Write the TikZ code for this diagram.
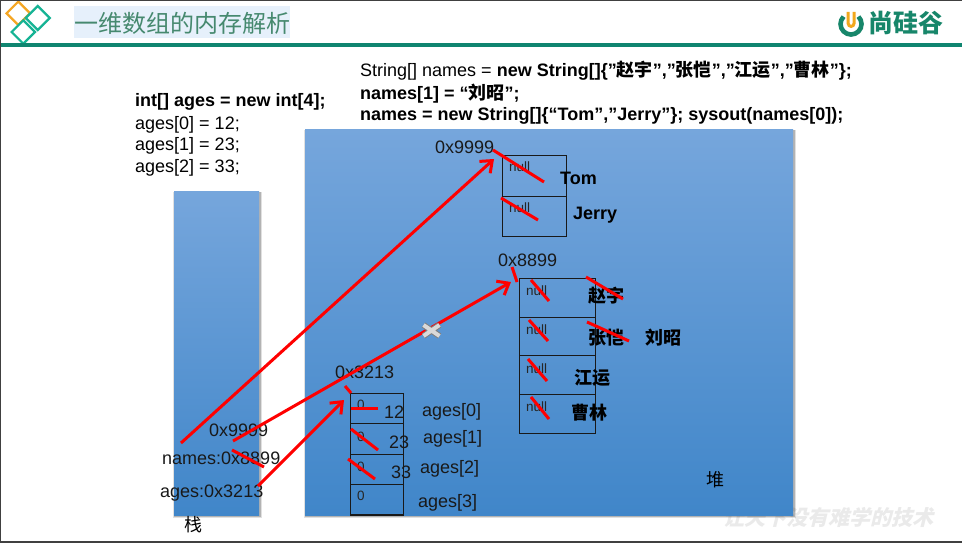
\documentclass[tikz,border=0pt]{standalone}
\usepackage{fontspec}
\setmainfont{Liberation Sans}
\newfontfamily\zhfont{Noto Sans CJK SC}
\usetikzlibrary{arrows.meta}
\newcommand{\zh}[1]{{\zhfont #1}}
\definecolor{rulegreen}{HTML}{0F8570}
\definecolor{dteal}{HTML}{16B394}
\definecolor{dorange}{HTML}{F5A623}
\definecolor{titlebg}{HTML}{E6F0FB}
\definecolor{titlefg}{HTML}{46896F}
\definecolor{logogreen}{HTML}{17866A}
\definecolor{logoorange}{HTML}{F2A81D}
\definecolor{boxtop}{HTML}{76A6DC}
\definecolor{boxmid}{HTML}{5C9BD9}
\definecolor{boxbot}{HTML}{4086C9}
\definecolor{redline}{HTML}{FF0000}
\definecolor{markgray}{HTML}{EAEAEA}
\tikzset{
  frameline/.style={draw=black!75,line width=1pt},
  mem/.style={draw=none,top color=boxtop,middle color=boxmid,bottom color=boxbot},
  shade box/.style={fill=black,draw=none},
  cell/.style={draw=black!90,line width=1.1pt},
  strike/.style={draw=redline,line width=3pt},
  ref/.style={draw=redline,line width=3pt,-{Straight Barb[length=10pt,width=16pt,line width=3pt]}},
  lbl/.style={anchor=west,inner sep=0pt,yshift=-1.5pt,font=\fontsize{18}{20}\selectfont,text=black!90},
  code/.style={anchor=west,inner sep=0pt,yshift=-1.5pt,font=\fontsize{18}{20}\selectfont,text=black},
  nullt/.style={anchor=west,inner sep=0pt,font=\fontsize{13.5}{15}\selectfont,text=black!85},
  zero/.style={inner sep=0pt,font=\fontsize{13.5}{15}\selectfont,text=black!85},
  val/.style={anchor=west,inner sep=0pt,font=\fontsize{18}{20}\selectfont\bfseries,text=black},
  gem/.style={line width=2.2pt,fill=white},
}
\begin{document}
\begin{tikzpicture}[x=1pt,y=-1pt]
\useasboundingbox (0,0) rectangle (962,543);
\fill[white] (0,0) rectangle (962,543);
% header
\fill[titlebg] (74,6) rectangle (290,38);
\node[anchor=west,inner sep=0pt,text=titlefg,font=\fontsize{24}{26}\selectfont\zhfont] (title) at (74,23) {一维数组的内存解析};
\draw[gem,draw=dorange] (18.3,1.6)--(30,13.3)--(18.3,25)--(6.6,13.3)--cycle;
\draw[gem,draw=dteal] (37.7,6)--(49.7,18)--(37.7,30)--(25.7,18)--cycle;
\draw[gem,draw=dteal] (23.3,20.3)--(35,32)--(23.3,43.7)--(11.6,32)--cycle;
\fill[rulegreen] (0,43.5) rectangle (962,47);
% logo
\draw[logogreen,line width=4.6pt] (843.6,16.6) arc[start angle=225,end angle=-45,radius=10.5];
\draw[logoorange,line width=3pt] (848.2,12) -- (848.2,23.5) arc[start angle=180,end angle=0,radius=2.9] -- (854,12);
\node[anchor=west,inner sep=0pt,text=logogreen,font=\fontsize{25}{27}\selectfont\zhfont\bfseries] (logo) at (868,23) {尚硅谷};
% watermark
\node[anchor=west,inner sep=0pt,text=markgray,xslant=.25,font=\fontsize{21}{22}\selectfont\zhfont\bfseries] (mark) at (725,517) {让天下没有难学的技术};
% memory boxes
\fill[shade box,opacity=.12] (173,192) rectangle (261.5,518);
\fill[shade box,opacity=.2] (174,192) rectangle (260.5,517);
\fill[shade box,opacity=.12] (304,130) rectangle (795.5,518);
\fill[shade box,opacity=.2] (305,130) rectangle (794.5,517);
\shade[mem] (174,191) rectangle (259,515);
\shade[mem] (305,129) rectangle (793,515);
% code text
\node[code] (c1) at (360,69) {String[] names = \textbf{new String[]\{"\zh{赵宇}","\zh{张恺}","\zh{江运}","\zh{曹林}"\};}};
\node[code] (c2) at (360,92) {\textbf{names[1] = “\zh{刘昭}”;}};
\node[code] (c3) at (360,114) {\textbf{names = new String[]\{“Tom”,”Jerry”\}; sysout(names[0]);}};
\node[code] (s1) at (135,100) {\textbf{int[] ages = new int[4];}};
\node[code] (s2) at (135,123) {ages[0] = 12;};
\node[code] (s3) at (135,144) {ages[1] = 23;};
\node[code] (s4) at (135,166) {ages[2] = 33;};
% arrays
\draw[cell] (502.5,155.5) rectangle (566.5,196.5);
\draw[cell] (502.5,196.5) rectangle (566.5,236.5);
\draw[cell] (519.5,278.5) rectangle (595.5,317.5);
\draw[cell] (519.5,317.5) rectangle (595.5,355.5);
\draw[cell] (519.5,355.5) rectangle (595.5,394.5);
\draw[cell] (519.5,394.5) rectangle (595.5,433.5);
\draw[cell] (350.5,393.5) rectangle (403.5,423.5);
\draw[cell] (350.5,423.5) rectangle (403.5,454.5);
\draw[cell] (350.5,454.5) rectangle (403.5,484.5);
\draw[cell] (350.5,484.5) rectangle (403.5,515);
% labels
\node[lbl] (h9) at (435,146) {0x9999};
\node[lbl] (h8) at (498,259) {0x8899};
\node[lbl] (h3) at (335,371) {0x3213};
\node[nullt] (n1) at (509,167) {null};
\node[nullt] (n2) at (509,208) {null};
\node[nullt] (n3) at (526,291) {null};
\node[nullt] (n4) at (526,330) {null};
\node[nullt] (n5) at (526,369) {null};
\node[nullt] (n6) at (526,407) {null};
\node[zero] (z0) at (361,405) {0};
\node[zero] (z1) at (361,437) {0};
\node[zero] (z2) at (361,467) {0};
\node[zero] (z3) at (361,496) {0};
\node[lbl] (v0) at (384,411) {12};
\node[lbl] (v1) at (389,441) {23};
\node[lbl] (v2) at (391,471) {33};
\node[lbl] (a0) at (422,410) {ages[0]};
\node[lbl] (a1) at (423,437) {ages[1]};
\node[lbl] (a2) at (420,467) {ages[2]};
\node[lbl] (a3) at (418,501) {ages[3]};
\node[val] (tom) at (560,178) {Tom};
\node[val] (jerry) at (573,215) {Jerry};
\node[val] (zy) at (588,296) {\zh{赵宇}};
\node[val] (zk) at (588,338) {\zh{张恺}};
\node[val] (lz) at (645,338) {\zh{刘昭}};
\node[val] (jy) at (574,378) {\zh{江运}};
\node[val] (cl) at (571,413) {\zh{曹林}};
\node[lbl] (s9) at (209,429) {0x9999};
\node[lbl] (s8) at (162,457) {names:0x8899};
\node[lbl] (s3a) at (160,492) {ages:0x3213};
\node[inner sep=0pt,font=\fontsize{18}{20}\selectfont\zhfont] (zhan) at (193,525) {栈};
\node[inner sep=0pt,font=\fontsize{18}{20}\selectfont\zhfont] (dui) at (715,480) {堆};
% connector ends
\coordinate (r1s) at (181,443); \coordinate (r1e) at (494,159);
\coordinate (r2s) at (233,441); \coordinate (r2e) at (511,282);
\coordinate (r3s) at (258,486); \coordinate (r3e) at (344,400);
\coordinate (t1a) at (493,150); \coordinate (t1b) at (544,182);
\coordinate (t2a) at (501,198); \coordinate (t2b) at (538,220);
\coordinate (t3a) at (512,267); \coordinate (t3b) at (517,282);
\coordinate (t4a) at (531,280); \coordinate (t4b) at (549,301);
\coordinate (t5a) at (529,320); \coordinate (t5b) at (548,341);
\coordinate (t6a) at (528,359); \coordinate (t6b) at (547,381);
\coordinate (t7a) at (531,397); \coordinate (t7b) at (549,419);
\coordinate (t8a) at (586,277); \coordinate (t8b) at (623,299);
\coordinate (t9a) at (587,322); \coordinate (t9b) at (629,341);
\coordinate (u1a) at (345,386); \coordinate (u1b) at (351,393);
\coordinate (u2a) at (351,408); \coordinate (u2b) at (378,408);
\coordinate (u3a) at (351,429); \coordinate (u3b) at (378,450);
\coordinate (u4a) at (348,459); \coordinate (u4b) at (375,479);
\coordinate (u5a) at (232,450); \coordinate (u5b) at (264,467);
% red references
\draw[ref] (r1s) -- (r1e);
\draw[ref] (r2s) -- (r2e);
\draw[ref] (r3s) -- (r3e);
\foreach \p in {t1,t2,t3,t4,t5,t6,t7,t8,t9,u1,u2,u3,u4,u5}
  \draw[strike] (\p a) -- (\p b);
% cancelled mark
\coordinate (xc) at (431.5,330.5);
\draw[black!50,line width=6pt] ([shift={(-8,-5.5)}]xc) -- ([shift={(8,5.5)}]xc) ([shift={(-8,5.5)}]xc) -- ([shift={(8,-5.5)}]xc);
\draw[black!15,line width=4pt] ([shift={(-8,-5.5)}]xc) -- ([shift={(8,5.5)}]xc) ([shift={(-8,5.5)}]xc) -- ([shift={(8,-5.5)}]xc);
% frame
\draw[frameline] (0.5,0.5) -- (961.5,0.5);
\draw[frameline] (0.5,0.5) -- (0.5,541.5);
\fill[black!75] (0,541) rectangle (962,543);
\end{tikzpicture}
\end{document}
